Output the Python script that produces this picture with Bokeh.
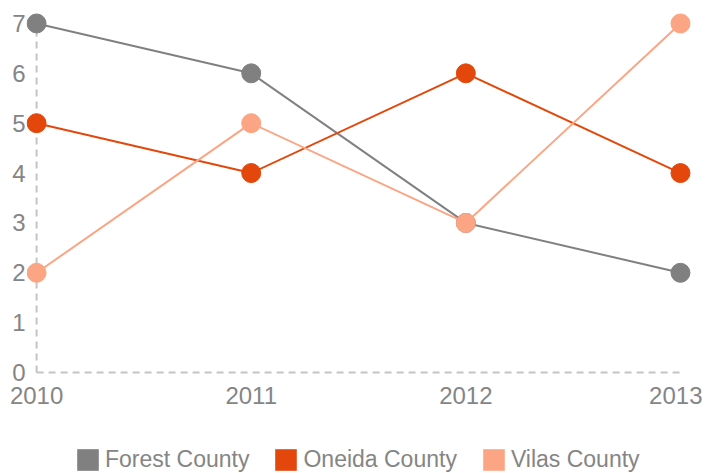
from bokeh.plotting import figure
from bokeh.layouts import column
from bokeh.models import Legend, LegendItem, Range1d, FixedTicker
from bokeh.embed import file_html
from bokeh.resources import INLINE

years = [2010, 2011, 2012, 2013]
forest = [7, 6, 3, 2]
oneida = [5, 4, 6, 4]
vilas = [2, 5, 3, 7]
y_ticks = [0, 1, 2, 3, 4, 5, 6, 7]
names = ["Forest County", "Oneida County", "Vilas County"]
colors = ["#808080", "#E4470B", "#FCA584"]

FONT = "Liberation Sans"
TXT = "#858585"

p = figure(frame_width=666, frame_height=374, output_backend="svg", toolbar_location=None,
           x_range=Range1d(2009.953, 2013.056), y_range=Range1d(-0.2, 7.3),
           min_border_left=26, min_border_right=10, min_border_top=8, min_border_bottom=39)
p.outline_line_color = None
p.grid.visible = False
p.background_fill_color = "white"
p.border_fill_color = "white"

for ax in (p.xaxis[0], p.yaxis[0]):
    ax.axis_line_color = None
    ax.major_tick_line_color = None
    ax.minor_tick_line_color = None
    ax.major_tick_out = 0
    ax.major_tick_in = 0
    ax.major_label_text_font = FONT
    ax.major_label_text_font_size = "24px"
    ax.major_label_text_color = TXT
p.xaxis.ticker = FixedTicker(ticks=years)
p.yaxis.ticker = FixedTicker(ticks=y_ticks)
p.xaxis.major_label_standoff = 4
p.yaxis.major_label_standoff = 1

# dashed axis lines at data origin
p.line([years[0], years[0]], [y_ticks[0], y_ticks[-1]], line_color="#c4c4c4",
       line_width=2, line_dash="7 5")
p.line([years[0], years[-1]], [y_ticks[0], y_ticks[0]], line_color="#c4c4c4",
       line_width=2, line_dash="7 5")

for vals, c in zip([forest, oneida, vilas], colors):
    p.line(years, vals, line_color=c, line_width=2)
    p.scatter(years, vals, size=19, fill_color=c, line_color=c)

# legend strip below the chart
leg = figure(width=702, height=52, output_backend="svg", toolbar_location=None,
             x_range=Range1d(0, 1), y_range=Range1d(0, 1),
             min_border=0, min_border_left=0, min_border_right=0,
             min_border_top=0, min_border_bottom=0)
leg.axis.visible = False
leg.grid.visible = False
leg.outline_line_color = None
leg.border_fill_color = "white"

items = []
for name, c in zip(names, colors):
    r = leg.rect(x=[float("nan")], y=[float("nan")], width=0.1, height=0.1,
                 fill_color=c, line_color=None)
    items.append(LegendItem(label=name, renderers=[r]))

legend = Legend(items=items, orientation="horizontal", location=(48, 0),
                glyph_width=27, glyph_height=27, label_text_font=FONT,
                label_text_font_size="23px", label_text_color=TXT,
                spacing=23, label_standoff=4, padding=0, margin=0,
                border_line_color=None, background_fill_alpha=0)
leg.add_layout(legend)

layout = column(p, leg, spacing=0)
open("out.html", "w").write(file_html(layout, INLINE))
